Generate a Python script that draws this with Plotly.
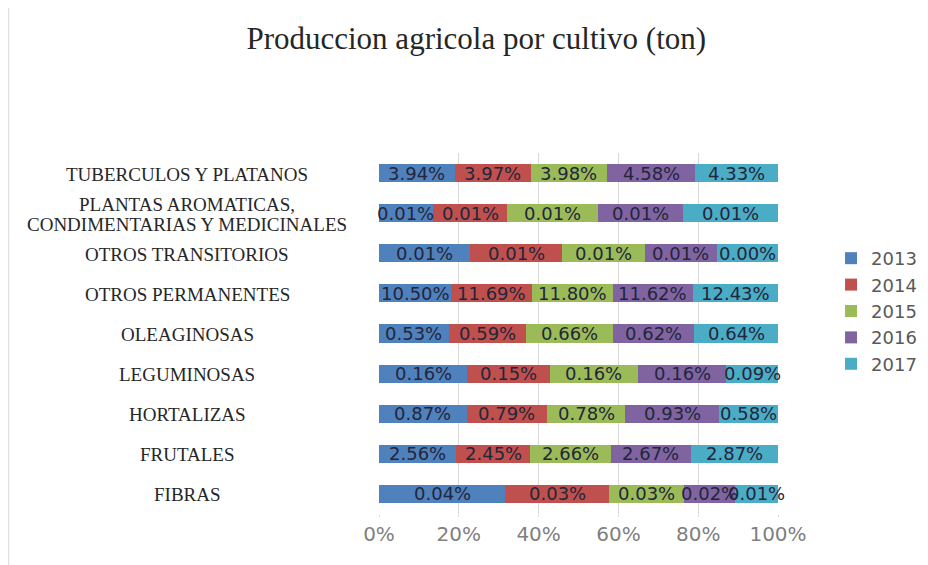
import plotly.graph_objects as go

# Categories from bottom to top (plotly category order)
cultivos = [
    "FIBRAS",
    "FRUTALES",
    "HORTALIZAS",
    "LEGUMINOSAS",
    "OLEAGINOSAS",
    "OTROS PERMANENTES",
    "OTROS TRANSITORIOS",
    "PLANTAS AROMATICAS, CONDIMENTARIAS Y MEDICINALES",
    "TUBERCULOS Y PLATANOS",
]
# label lines for the category axis
cultivo_lines = [
    ["FIBRAS"],
    ["FRUTALES"],
    ["HORTALIZAS"],
    ["LEGUMINOSAS"],
    ["OLEAGINOSAS"],
    ["OTROS PERMANENTES"],
    ["OTROS TRANSITORIOS"],
    ["PLANTAS AROMATICAS,", "CONDIMENTARIAS Y MEDICINALES"],
    ["TUBERCULOS Y PLATANOS"],
]
years = ["2013", "2014", "2015", "2016", "2017"]

# Share of total production (%) per year, same order as cultivos
v2013 = [0.0423, 2.56, 0.87, 0.16, 0.53, 10.50, 0.0067, 0.0061, 3.94]
v2014 = [0.0346, 2.45, 0.79, 0.15, 0.59, 11.69, 0.0068, 0.0084, 3.97]
v2015 = [0.0252, 2.66, 0.78, 0.16, 0.66, 11.80, 0.0061, 0.0103, 3.98]
v2016 = [0.0170, 2.67, 0.93, 0.16, 0.62, 11.62, 0.0053, 0.0096, 4.58]
v2017 = [0.0145, 2.87, 0.58, 0.094, 0.64, 12.43, 0.0045, 0.0107, 4.33]
series = [v2013, v2014, v2015, v2016, v2017]

colors = ["#4f81bd", "#c0504d", "#9bbb59", "#8064a2", "#4bacc6"]

fig = go.Figure()
for year, vals, color in zip(years, series, colors):
    fig.add_trace(go.Bar(
        y=cultivos,
        x=vals,
        name=year,
        orientation="h",
        marker=dict(color=color, line=dict(width=0)),
    ))

# Data labels: centred on each segment of the 100% stacked bar
totals = [sum(col) for col in zip(*series)]
for i, cat in enumerate(cultivos):
    start = 0.0
    for vals in series:
        share = vals[i] / totals[i] * 100
        fig.add_annotation(
            x=start + share / 2, xref="x", y=cat, yref="y",
            text=f"{vals[i]:.2f}%", showarrow=False, xanchor="center",
            font=dict(family="DejaVu Sans, sans-serif", size=18, color="#23263a"),
        )
        start += share

# Centered category labels (annotations keep every line centered)
for cat, lines in zip(cultivos, cultivo_lines):
    n = len(lines)
    for i, line in enumerate(lines):
        fig.add_annotation(
            x=-0.48, xref="paper", y=cat, yref="y",
            text=line, showarrow=False, xanchor="center",
            yshift=(n - 1) * 10 - i * 20 - 1,
            font=dict(family="Liberation Serif, serif", size=19, color="#262626"),
        )

# faint chart frame on the left edge
fig.add_shape(
    type="line", xref="paper", yref="paper",
    x0=-0.928, x1=-0.928, y0=-0.2, y1=1.45,
    line=dict(color="#d9d9d9", width=1),
)

fig.update_layout(
    barmode="stack",
    barnorm="percent",
    bargap=0.55,
    width=920,
    height=557,
    paper_bgcolor="white",
    plot_bgcolor="white",
    margin=dict(l=371, r=150, t=145, b=51),
    title=dict(
        text="Produccion agricola por cultivo (ton)",
        x=0.509, xanchor="center", y=0.945, yanchor="middle",
        font=dict(family="Liberation Serif, serif", size=31, color="#262626"),
    ),
    xaxis=dict(
        range=[0, 100], dtick=20, ticksuffix="%",
        showgrid=True, gridcolor="#d9d9d9", gridwidth=1,
        zeroline=False, showline=False,
        tickfont=dict(family="DejaVu Sans, sans-serif", size=20, color="#7f7f7f"),
        ticks="outside", ticklen=2, tickcolor="#d9d9d9",
    ),
    yaxis=dict(showticklabels=False, showgrid=False, zeroline=False),
    legend=dict(
        xref="container", yref="container",
        x=0.8946, y=0.5835, xanchor="left", yanchor="top",
        traceorder="normal",
        font=dict(family="DejaVu Sans, sans-serif", size=18, color="#595959"),
        itemwidth=30,
    ),
    showlegend=True,
)

fig.write_html("out.html")
